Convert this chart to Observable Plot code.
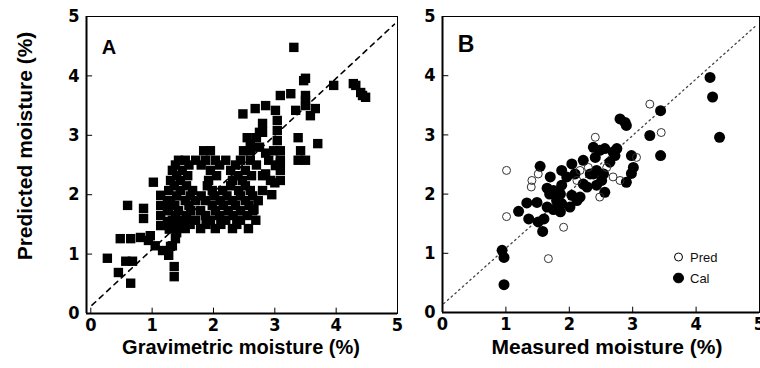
<!DOCTYPE html>
<html>
<head>
<meta charset="utf-8">
<script src="https://cdn.jsdelivr.net/npm/d3@7"></script>
<script src="https://cdn.jsdelivr.net/npm/@observablehq/plot@0.6"></script>
<style>
  html, body { margin: 0; padding: 0; background: #fff; }
  #wrap { position: relative; width: 760px; height: 368px; overflow: hidden; background: #fff; }
  .pane { position: absolute; top: 0; }
  .lbl { position: absolute; transform: translate(-50%, -50%); white-space: nowrap;
         font-family: "Liberation Sans", Arial, sans-serif; font-weight: bold; color: #000; }
  .leg { position: absolute; font-family: "Liberation Sans", Arial, sans-serif; font-size: 13px; color: #111;
         display: flex; align-items: center; gap: 6px; transform: translateY(-50%); }
</style>
</head>
<body>
<div id="wrap"></div>
<script>
// ---------- data ----------
const tickValues = [0, 1, 2, 3, 4, 5];

// Panel A: gravimetric (x) vs predicted (y) moisture, %
const gravX = [
  0.27,0.45,0.65,0.57,0.68,0.48,0.65,0.81,0.97,0.60,0.86,0.86,1.02,1.14,1.14,1.14,1.14,
  0.94,1.05,1.17,1.27,1.30,1.36,1.36,1.33,1.40,1.38,1.25,1.25,1.25,1.28,
  1.84,1.95,2.49,2.60,2.98,2.55,2.60,
  1.43,1.54,1.71,1.87,2.03,2.20,2.44,2.60,2.90,3.09,
  1.38,1.60,1.80,2.10,2.36,2.70,3.05,
  1.33,1.49,1.95,2.28,2.52,3.09,
  1.40,1.58,2.05,2.40,2.62,2.80,
  1.30,1.46,1.92,2.31,2.47,2.93,3.09,
  1.36,1.56,1.90,2.28,2.52,
  1.27,1.46,1.66,1.98,2.15,2.41,2.60,2.80,
  1.40,1.62,1.80,2.02,2.22,2.44,2.64,
  1.30,1.54,1.71,1.87,2.11,2.31,2.52,2.73,
  1.37,1.60,1.98,2.16,2.36,2.58,
  1.27,1.43,1.63,1.79,2.03,2.24,2.44,2.64,
  1.38,1.56,1.87,2.10,2.32,2.55,
  1.33,1.49,1.71,1.95,2.20,2.44,2.69,
  1.40,1.62,1.88,2.12,2.38,
  1.54,1.79,2.03,2.31,2.57,
  2.95,3.00,2.85,2.66,
  2.48,2.68,2.85,3.01,3.09,3.26,3.50,3.34,3.50,3.04,3.04,3.04,
  3.47,3.50,3.50,3.58,3.66,3.96,4.28,4.32,4.40,4.43,4.48,
  3.38,3.42,3.38,3.50,3.70,3.09,3.01,3.09,3.31,
  2.70,2.75,2.85,2.80,2.80,2.75
];
const predA = [
  0.93,0.69,0.51,0.88,0.88,1.26,1.26,1.28,1.31,1.82,1.77,1.60,2.21,1.99,1.82,1.65,1.48,
  1.23,1.14,1.06,0.98,1.13,0.79,0.62,1.14,1.36,1.26,1.90,1.75,1.55,1.42,
  2.74,2.74,2.74,2.74,2.74,2.96,2.85,
  2.58,2.58,2.58,2.58,2.58,2.58,2.58,2.58,2.58,2.58,
  2.50,2.50,2.50,2.50,2.50,2.50,2.50,
  2.41,2.41,2.41,2.41,2.41,2.41,
  2.32,2.32,2.32,2.32,2.32,2.32,
  2.24,2.24,2.24,2.24,2.24,2.24,2.24,
  2.15,2.15,2.15,2.15,2.15,
  2.07,2.07,2.07,2.07,2.07,2.07,2.07,2.07,
  1.98,1.98,1.98,1.98,1.98,1.98,1.98,
  1.90,1.90,1.90,1.90,1.90,1.90,1.90,1.90,
  1.82,1.82,1.82,1.82,1.82,1.82,
  1.73,1.73,1.73,1.73,1.73,1.73,1.73,1.73,
  1.65,1.65,1.65,1.65,1.65,1.65,
  1.57,1.57,1.57,1.57,1.57,1.57,1.57,
  1.50,1.50,1.50,1.50,1.50,
  1.43,1.43,1.43,1.43,1.43,
  2.00,2.20,2.35,1.75,
  3.36,3.45,3.50,3.42,3.67,3.70,3.96,3.42,3.59,3.25,3.08,2.91,
  3.92,3.67,3.50,3.33,3.45,3.84,3.87,3.84,3.72,3.67,3.64,
  2.96,2.74,2.58,2.58,2.86,2.74,2.49,2.54,4.48,
  2.96,2.80,2.70,3.05,3.20,3.05
];

// Panel B: measured (x) vs predicted moisture (y), %
const calX = [
  0.94,0.97,0.97,1.20,1.33,1.36,1.49,1.54,1.51,1.58,1.60,1.65,1.69,1.70,1.65,
  1.75,1.75,1.80,1.88,1.86,1.86,1.88,1.88,1.96,2.04,2.09,2.01,2.04,2.12,2.17,
  2.22,2.22,2.28,2.38,2.41,2.33,2.43,2.43,2.51,2.56,2.56,2.69,2.75,2.72,2.64,
  2.80,2.88,2.90,2.90,2.98,3.01,2.98,3.27,3.44,3.44,4.22,4.26,4.37,2.48,2.54,2.38
];
const calY = [
  1.05,0.93,0.47,1.71,1.85,1.58,1.86,2.47,1.53,1.37,1.58,1.78,2.00,2.29,2.10,
  2.06,1.74,1.89,1.84,2.00,1.70,2.40,2.15,2.29,2.51,2.34,1.78,1.98,1.89,1.95,
  2.57,2.17,2.12,2.79,2.62,2.34,2.40,2.15,2.23,2.03,2.77,2.71,2.77,2.65,2.54,
  3.27,3.21,3.16,2.20,2.65,2.45,2.35,2.99,3.41,2.65,3.97,3.64,2.96,2.74,2.34,2.34
];
const predX = [1.01,1.01,1.67,1.41,1.51,1.40,2.12,2.17,2.41,2.59,3.06,3.27,3.45,2.48,2.69,2.80,1.91,2.30];
const predY = [2.40,1.62,0.91,2.23,2.34,2.12,2.23,2.40,2.96,2.45,2.62,3.52,3.04,1.95,2.29,2.23,1.44,2.45];

// reference lines (endpoints)
const lineAX = [0.02, 4.95], lineAY = [0.14, 4.87];
const lineBX = [0.02, 4.95], lineBY = [0.15, 4.85];

// ---------- helpers ----------
const zip = (xs, ys) => xs.map((x, i) => ({x, y: ys[i]}));
const tickFont = `"Liberation Sans Narrow", "DejaVu Sans Condensed", "Liberation Sans", Arial, sans-serif`;
const fmt = d3.format("d");

function axes(xDom, yDom) {
  return [
    Plot.axisX({ticks: tickValues, tickFormat: fmt, tickSize: 0, tickPadding: 5, fontSize: 18, fontWeight: "bold",
                fontFamily: tickFont, label: null}),
    Plot.axisY({ticks: tickValues, tickFormat: fmt, tickSize: 0, tickPadding: 7, fontSize: 18, fontWeight: "bold",
                fontFamily: tickFont, label: null}),
    Plot.ruleX(tickValues, {x: d => d, y1: yDom[0], y2: yDom[0] + 0.09, stroke: "#000", strokeWidth: 1}),
    Plot.ruleY(tickValues, {y: d => d, x1: xDom[0], x2: xDom[0] + 0.1, stroke: "#000", strokeWidth: 1}),
    Plot.frame({stroke: "#000", strokeWidth: 1}),
    Plot.ruleX([xDom[0]], {stroke: "#000", strokeWidth: 2}),
    Plot.ruleY([yDom[0]], {stroke: "#000", strokeWidth: 2})
  ];
}

const wrap = document.getElementById("wrap");

// ---------- panel A ----------
const xDomA = [-0.07, 5], yDomA = [0, 5];
const plotA = Plot.plot({
  width: 400, height: 368,
  marginLeft: 86, marginRight: 3, marginTop: 16, marginBottom: 55,
  x: {domain: xDomA}, y: {domain: yDomA},
  style: {background: "transparent", overflow: "visible"},
  marks: [
    Plot.line(zip(lineAX, lineAY), {x: "x", y: "y", stroke: "#000", strokeWidth: 1.6, strokeDasharray: "5,5"}),
    Plot.dot(zip(gravX, predA), {x: "x", y: "y", symbol: "square", r: 5.3, fill: "#000", stroke: "none"}),
    ...axes(xDomA, yDomA)
  ]
});
const paneA = document.createElement("div");
paneA.className = "pane"; paneA.style.left = "0px";
paneA.appendChild(plotA);
wrap.appendChild(paneA);

// ---------- panel B ----------
const xDomB = [0, 5], yDomB = [0, 5];
const plotB = Plot.plot({
  width: 380, height: 368,
  marginLeft: 62, marginRight: 1, marginTop: 16, marginBottom: 56,
  x: {domain: xDomB}, y: {domain: yDomB},
  style: {background: "transparent", overflow: "visible"},
  marks: [
    Plot.line(zip(lineBX, lineBY), {x: "x", y: "y", stroke: "#444", strokeWidth: 1.3, strokeDasharray: "1.5,3.5"}),
    Plot.dot(zip(calX, calY), {x: "x", y: "y", r: 5.5, fill: "#000", stroke: "none"}),
    Plot.dot(zip(predX, predY), {x: "x", y: "y", r: 4, fill: "none", stroke: "#333", strokeWidth: 1}),
    ...axes(xDomB, yDomB)
  ]
});
const paneB = document.createElement("div");
paneB.className = "pane"; paneB.style.left = "380px";
paneB.appendChild(plotB);
wrap.appendChild(paneB);

// ---------- text labels ----------
function label(text, left, top, size, rotate) {
  const d = document.createElement("div");
  d.className = "lbl";
  d.textContent = text;
  d.style.left = left + "px"; d.style.top = top + "px";
  d.style.fontSize = size + "px";
  if (rotate) d.style.transform = "translate(-50%, -50%) rotate(-90deg)";
  wrap.appendChild(d);
}
label("Predicted moisture (%)", 25, 146, 21, true);
label("Gravimetric moisture (%)", 241, 347, 20);
label("Measured moisture (%)", 607, 347, 21);
label("A", 109, 47, 20);
label("B", 466, 44, 23);

// legend
const legendItems = [
  {name: "Pred", filled: false, top: 257},
  {name: "Cal", filled: true, top: 278}
];
legendItems.forEach(it => {
  const d = document.createElement("div");
  d.className = "leg";
  d.style.left = "673px"; d.style.top = it.top + "px";
  d.innerHTML = `<svg width="11" height="11" viewBox="0 0 11 11"><circle cx="5.5" cy="5.5" r="${it.filled ? 5 : 4}" fill="${it.filled ? "#000" : "none"}" stroke="#000" stroke-width="1"/></svg><span>${it.name}</span>`;
  wrap.appendChild(d);
});
</script>
</body>
</html>
